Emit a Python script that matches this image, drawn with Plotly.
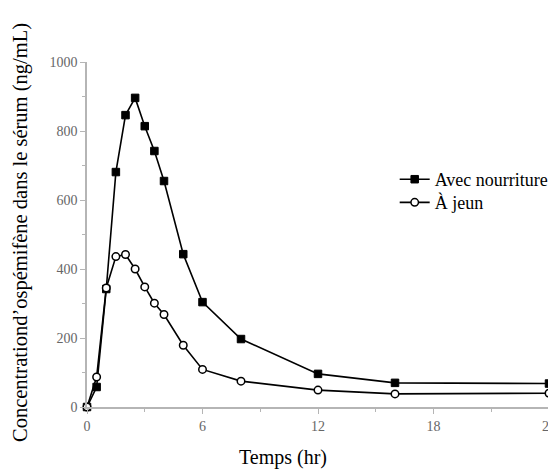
import plotly.graph_objects as go

time_fed = [0, 0.5, 1, 1.5, 2, 2.5, 3, 3.5, 4, 5, 6, 8, 12, 16, 24]
conc_fed = [0, 58, 342, 681, 846, 896, 814, 742, 655, 443, 304, 197, 96, 70, 68]

time_fasted = [0, 0.5, 1, 1.5, 2, 2.5, 3, 3.5, 4, 5, 6, 8, 12, 16, 24]
conc_fasted = [0, 87, 345, 436, 442, 400, 348, 301, 268, 179, 109, 75, 49, 38, 40]

x_ticks = [0, 6, 12, 18, 24]
y_ticks = [0, 200, 400, 600, 800, 1000]

serif = "Liberation Serif, Times New Roman, serif"

fig = go.Figure()
fig.add_trace(go.Scatter(
    x=time_fed, y=conc_fed, mode="lines+markers", name="Avec nourriture",
    line=dict(color="black", width=1.6),
    marker=dict(symbol="square", size=7.5, color="black", line=dict(color="black", width=1)),
    cliponaxis=False, legend="legend",
))
fig.add_trace(go.Scatter(
    x=time_fasted, y=conc_fasted, mode="lines+markers", name="À jeun",
    line=dict(color="black", width=1.6),
    marker=dict(symbol="circle", size=7.5, color="white", line=dict(color="black", width=1.5)),
    cliponaxis=False, legend="legend2",
))

axis_common = dict(
    showgrid=False, zeroline=False, showline=True, linecolor="#b5b5b5", linewidth=1.5,
    ticks="outside", tickcolor="#b5b5b5", ticklen=5, tickwidth=1,
    tickfont=dict(family=serif, size=14, color="#666666"),
    ticklabeloverflow="allow",
)

legend_common = dict(
    xanchor="left", yanchor="top",
    font=dict(family=serif, size=18, color="black"),
    bgcolor="rgba(0,0,0,0)", itemwidth=30,
)

# the page body adds an 8px margin, so the figure is sized/offset to compensate
fig.update_layout(
    width=564, height=465,
    margin=dict(l=79, r=23, t=54, b=66),
    paper_bgcolor="white", plot_bgcolor="white",
    font=dict(family=serif, color="black"),
    showlegend=True,
    legend=dict(x=0.666, y=0.713, **legend_common),
    legend2=dict(x=0.666, y=0.646, **legend_common),
    xaxis=dict(
        range=[0, 24], tickvals=x_ticks, ticktext=[str(v) for v in x_ticks],
        minor=dict(tickvals=[3, 9, 15, 21], ticks="outside", ticklen=3, tickcolor="#b5b5b5"),
        **axis_common,
    ),
    yaxis=dict(
        range=[0, 1000], tickvals=y_ticks, ticktext=[str(v) for v in y_ticks],
        minor=dict(tickvals=[100, 300, 500, 700, 900], ticks="outside", ticklen=3, tickcolor="#b5b5b5"),
        **axis_common,
    ),
    annotations=[
        dict(text="Temps (hr)", xref="paper", yref="paper", x=(283 - 87) / 462, y=(407 - 457) / 345,
             xanchor="center", yanchor="middle", showarrow=False,
             font=dict(family=serif, size=20, color="black")),
        dict(text="Concentrationd’ospémifène dans le sérum (ng/mL)", xref="paper", yref="paper",
             x=(20 - 87) / 462, y=(407 - 233) / 345, xanchor="center", yanchor="middle",
             textangle=-90, showarrow=False,
             font=dict(family=serif, size=20.5, color="black")),
    ],
)

fig.write_html("out.html")
